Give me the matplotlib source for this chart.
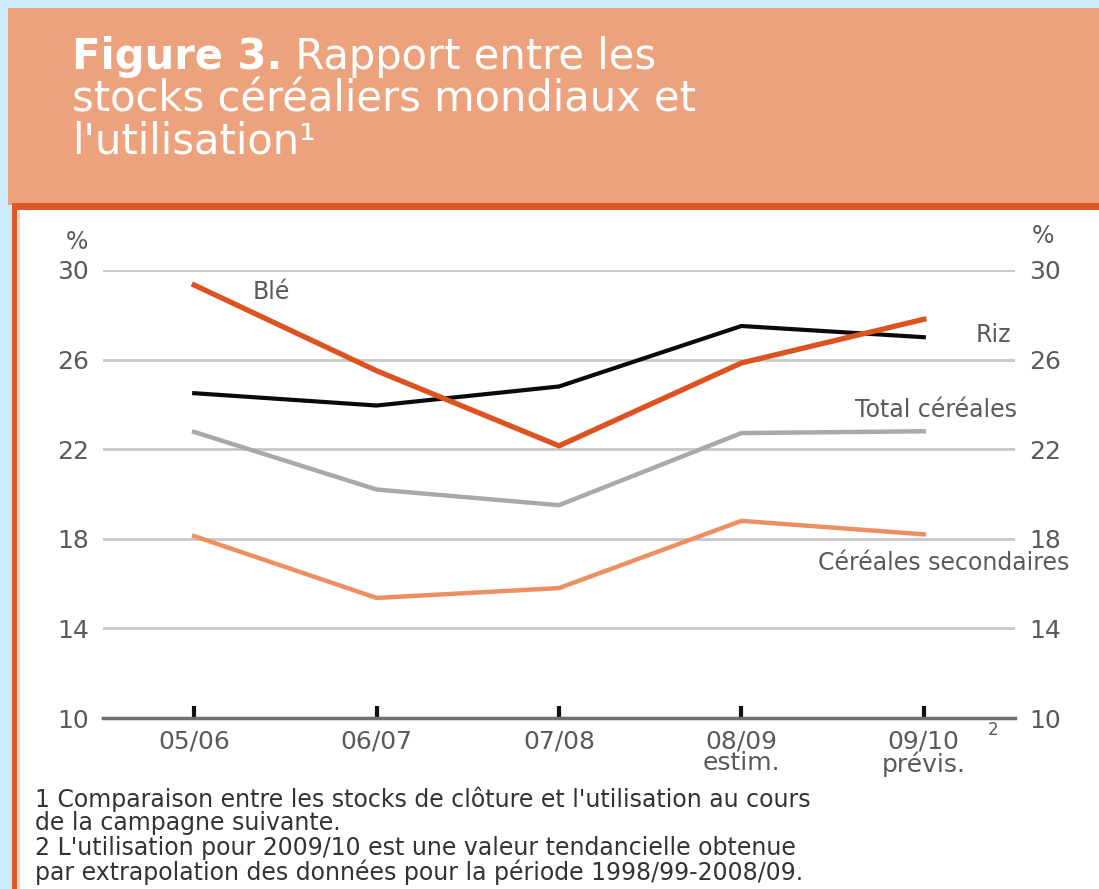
import numpy as np
import matplotlib
matplotlib.use('Agg')
import matplotlib.pyplot as plt
from matplotlib import patches

# campaign years on the x axis
years = ['05/06', '06/07', '07/08', '08/09\nestim.', '09/10\nprévis.']

# stock-to-use ratios, %
ble = [29.33, 25.5, 22.15, 25.85, 27.8]
riz = [24.5, 23.95, 24.8, 27.5, 27.0]
total = [22.77, 20.2, 19.5, 22.72, 22.8]
secondaires = [18.12, 15.36, 15.8, 18.8, 18.2]

yticks = [10, 14, 18, 22, 26, 30]

notes = ["1 Comparaison entre les stocks de clôture et l'utilisation au cours",
         "de la campagne suivante.",
         "2 L'utilisation pour 2009/10 est une valeur tendancielle obtenue",
         "par extrapolation des données pour la période 1998/99-2008/09."]

W, H = 1099, 889
fig = plt.figure(figsize=(W / 100, H / 100), dpi=100)

## background frame in pixel coords
bg = fig.add_axes([0, 0, 1, 1])
bg.set_xlim(0, W)
bg.set_ylim(H, 0)
bg.axis('off')
bg.add_patch(patches.Rectangle((0, 0), W, H, facecolor='#cdebfa', edgecolor='none'))
bg.add_patch(patches.Rectangle((8, 8), W - 8, 197, facecolor='#eca27c', edgecolor='none'))
bg.add_patch(patches.Rectangle((12, 203), W - 12, H - 203, facecolor='white', edgecolor='none'))
bg.add_patch(patches.Rectangle((12, 203), W - 12, 7, facecolor='#dd5a24', edgecolor='none'))
bg.add_patch(patches.Rectangle((12, 203), 5, H - 203, facecolor='#dd5a24', edgecolor='none'))
bg.add_patch(patches.Rectangle((17, 210), 3, H - 210, facecolor='#f8d6c8', edgecolor='none'))

## title
tsize = 30
t1 = bg.text(72, 69, 'Figure 3.', color='white', fontsize=tsize, fontweight='bold', va='baseline')
bg.annotate(' Rapport entre les', xy=(1, 0), xycoords=t1, color='white', fontsize=tsize, va='bottom')
bg.text(72, 111, 'stocks céréaliers mondiaux et', color='white', fontsize=tsize, va='baseline')
bg.text(72, 153, "l'utilisation\u00b9", color='white', fontsize=tsize, va='baseline')

## chart
ax = fig.add_axes([103 / W, 1 - 718 / H, (1015 - 103) / W, (718 - 270) / H])
ax.patch.set_alpha(0)
x = np.arange(len(years))
ax.set_xlim(-0.5, 4.5)
ax.set_ylim(10, 30)

for v in yticks[1:]:
    ax.axhline(v, color='#c8c8c8', lw=2, zorder=1)

ax.plot(x, secondaires, color='#ec9064', lw=3.2, zorder=3)
ax.plot(x, total, color='#a9a9ad', lw=3.2, zorder=3)
ax.plot(x, riz, color='#0a0a0a', lw=3.0, zorder=4)
ax.plot(x, ble, color='#dc5220', lw=3.8, zorder=5)

for s in ['top', 'left', 'right']:
    ax.spines[s].set_visible(False)
ax.spines['bottom'].set_color('#707070')
ax.spines['bottom'].set_linewidth(2.5)

lab = '#5a5a5a'
ax.set_xticks(x)
ax.set_xticklabels(years, fontsize=18, color=lab, linespacing=0.9)
ax.tick_params(axis='x', direction='in', length=9, width=3, color='#111111', pad=8)
ax.set_yticks(yticks)
ax.set_yticklabels([str(v) for v in yticks], fontsize=18, color=lab)
ax.tick_params(axis='y', length=0, pad=10, labelleft=True, labelright=True)

# series labels
ax.text(0.32, 29.0, 'Blé', fontsize=17, color=lab, ha='left', va='center')
ax.text(4.48, 27.1, 'Riz', fontsize=17, color=lab, ha='right', va='center')
ax.text(4.51, 23.75, 'Total céréales', fontsize=17, color=lab, ha='right', va='center', clip_on=False)
ax.text(4.8, 17.45, 'Céréales secondaires', fontsize=17, color=lab, ha='right', va='top', clip_on=False)

# superscript on last year
fig.text(988 / W, 1 - 730 / H, '2', fontsize=12, color=lab, ha='left', va='center')

# percent signs
fig.text(88 / W, 1 - 242 / H, '%', fontsize=17, color=lab, ha='right', va='center')
fig.text(1032 / W, 1 - 236 / H, '%', fontsize=17, color=lab, ha='left', va='center')

## footnotes
for i, n in enumerate(notes):
    fig.text(35 / W, 1 - [799, 823, 848, 872][i] / H, n, fontsize=17, color='#333333',
             ha='left', va='center')

fig.savefig('out.png', dpi=100)
